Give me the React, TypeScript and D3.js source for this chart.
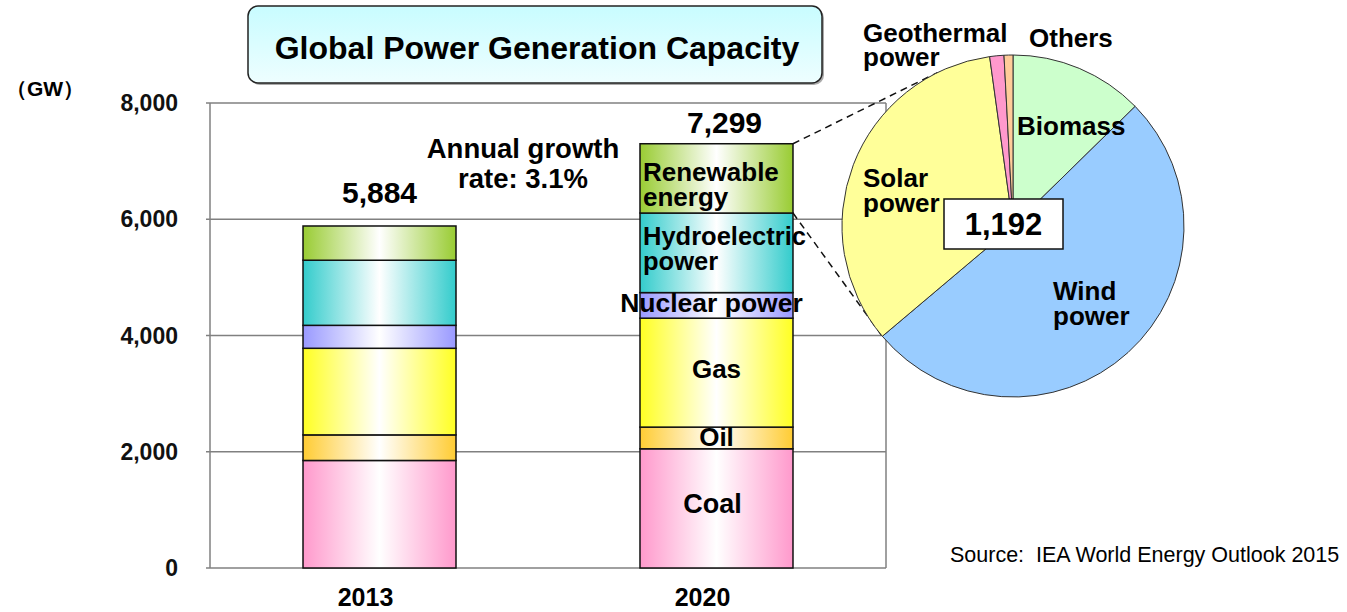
import React from 'react';
import * as d3 from 'd3';

const years = ['2013', '2020'];
const sources = ['Coal', 'Oil', 'Gas', 'Nuclear power', 'Hydroelectric power', 'Renewable energy'];
const values2013 = [1850, 440, 1490, 395, 1120, 589];
const values2020 = [2051, 373, 1874, 440, 1369, 1192];
const totals = [5884, 7299];
const yTicks = [0, 2000, 4000, 6000, 8000];
const pieLabels = ['Biomass', 'Wind power', 'Solar power', 'Geothermal power', 'Others'];
const pieValues = [151, 610, 405, 16, 10];
const pieTotal = 1192;
const growthText = ['Annual growth', 'rate: 3.1%'];
const titleText = 'Global Power Generation Capacity';
const unitText = '（GW）';
const sourceText = 'Source:  IEA World Energy Outlook 2015';

const barColors = ['#ff99cc', '#ffcc33', '#ffff22', '#9999ff', '#33cccc', '#99cc33'];
const pieColors = ['#ccffcc', '#99ccff', '#ffff99', '#ff99cc', '#ffcc99'];
const FONT = '"Liberation Sans", Arial, sans-serif';

export default function App() {
  const W = 1347, H = 612;
  const x = d3.scaleBand().domain(years).range([210, 886]).paddingInner(0.546).paddingOuter(0.276);
  const y = d3.scaleLinear().domain([0, 8000]).range([568, 103]);
  const rows = years.map((yr, i) => {
    const vals = i === 0 ? values2013 : values2020;
    const o: any = { year: yr };
    sources.forEach((s, j) => (o[s] = vals[j]));
    return o;
  });
  const stacked = d3.stack().keys(sources)(rows);
  const bw = x.bandwidth();

  const cx = 1013, cy = 226, r = 171;
  const pie = d3.pie<number>().sort(null).value((d) => d)(pieValues);
  const arc = d3.arc<any>().innerRadius(0).outerRadius(r);

  // dashed connector lines
  const x20 = (x('2020') as number) + bw;
  const P1 = [x20, y(totals[1])];
  const d1 = Math.hypot(P1[0] - cx, P1[1] - cy);
  const base1 = Math.atan2(P1[1] - cy, P1[0] - cx);
  const a1 = base1 + Math.acos(r / d1);
  const T1 = [cx + r * Math.cos(a1), cy + r * Math.sin(a1)];
  const P2 = [x20, y(totals[1] - values2020[5])];
  const boundary = pie[1].endAngle; // wind / solar boundary
  const T2 = [cx + r * Math.sin(boundary), cy - r * Math.cos(boundary)];

  const c20 = (x('2020') as number) + bw / 2;
  const c13 = (x('2013') as number) + bw / 2;
  const barL20 = x('2020') as number;

  const barLabels: { lines: string[]; anchor: string; dx: number; ys: number[]; size: number }[] = [
    { lines: ['Coal'], anchor: 'middle', dx: -4, ys: [513], size: 27 },
    { lines: ['Oil'], anchor: 'middle', dx: 0, ys: [446], size: 26 },
    { lines: ['Gas'], anchor: 'middle', dx: 0, ys: [378], size: 26 },
    { lines: ['Nuclear power'], anchor: 'middle', dx: -5, ys: [312], size: 26.5 },
    { lines: ['Hydroelectric', 'power'], anchor: 'start', dx: 0, ys: [245, 270], size: 25.5 },
    { lines: ['Renewable', 'energy'], anchor: 'start', dx: 0, ys: [181, 206], size: 26 },
  ];

  const pieLabelPos = [
    { x: 1017, ys: [135] },
    { x: 1053, ys: [300, 325] },
    { x: 863, ys: [187, 212] },
    { x: 863, ys: [42, 66] },
    { x: 1029, ys: [47] },
  ];

  return (
    <svg width={W} height={H} style={{ position: 'absolute', left: 0, top: 0, background: '#fff' }} fontFamily={FONT}>
      <defs>
        {barColors.map((c, i) => (
          <linearGradient key={i} id={`g${i}`} x1="0" x2="1" y1="0" y2="0">
            <stop offset="0" stopColor={c} />
            <stop offset="0.5" stopColor="#ffffff" />
            <stop offset="1" stopColor={c} />
          </linearGradient>
        ))}
        <linearGradient id="titleG" x1="0" x2="0" y1="0" y2="1">
          <stop offset="0" stopColor="#c8fcff" />
          <stop offset="1" stopColor="#eefeff" />
        </linearGradient>
      </defs>

      {/* title */}
      <rect x={250} y={8} width={574} height={77} rx={10} fill="#aaa" />
      <rect x={248} y={6} width={574} height={77} rx={10} fill="url(#titleG)" stroke="#222" strokeWidth={1.5} />
      <text x={537} y={59} textAnchor="middle" fontSize={32} fontWeight="bold">{titleText}</text>

      {/* grid and frame */}
      {yTicks.map((t) => (
        <g key={t}>
          <line x1={206} x2={886} y1={y(t)} y2={y(t)} stroke="#808080" strokeWidth={1.5} />
          <text x={178} y={y(t) + 8} textAnchor="end" fontSize={23} fontWeight="bold" fill="#111">{d3.format(',')(t)}</text>
        </g>
      ))}
      <line x1={210} x2={210} y1={y(8000)} y2={y(0)} stroke="#808080" strokeWidth={1.5} />
      <line x1={886} x2={886} y1={y(8000)} y2={y(0)} stroke="#808080" strokeWidth={1.5} />
      <text x={6} y={96} fontSize={21} fontWeight="bold">{unitText}</text>

      {/* bars */}
      {stacked.map((layer, i) => (
        <g key={layer.key}>
          {layer.map((d: any, j: number) => (
            <rect key={j} x={x(years[j])} y={y(d[1])} width={bw} height={y(d[0]) - y(d[1])}
              fill={`url(#g${i})`} stroke="#111" strokeWidth={1.5} />
          ))}
        </g>
      ))}

      {/* bar labels 2020 */}
      {barLabels.map((b, i) => b.lines.map((ln, k) => (
        <text key={`${i}-${k}`} x={b.anchor === 'start' ? barL20 + 3 + b.dx : c20 + b.dx} y={b.ys[k]}
          textAnchor={b.anchor} fontSize={b.size} fontWeight="bold">{ln}</text>
      )))}

      {/* totals */}
      <text x={c13} y={203} textAnchor="middle" fontSize={30} fontWeight="bold">{d3.format(',')(totals[0])}</text>
      <text x={c20 + 8} y={133} textAnchor="middle" fontSize={30} fontWeight="bold">{d3.format(',')(totals[1])}</text>
      {growthText.map((t, i) => (
        <text key={t} x={523} y={158 + i * 30} textAnchor="middle" fontSize={27.5} fontWeight="bold">{t}</text>
      ))}

      {/* x labels */}
      {years.map((yr) => (
        <text key={yr} x={(x(yr) as number) + bw / 2 - 14} y={606} textAnchor="middle" fontSize={25} fontWeight="bold">{yr}</text>
      ))}

      {/* dashed connectors */}
      <line x1={P1[0]} y1={P1[1]} x2={T1[0]} y2={T1[1]} stroke="#111" strokeWidth={1.5} strokeDasharray="7,5" />
      <line x1={P2[0]} y1={P2[1]} x2={T2[0]} y2={T2[1]} stroke="#111" strokeWidth={1.5} strokeDasharray="7,5" />

      {/* pie */}
      <g transform={`translate(${cx},${cy})`}>
        {pie.map((p, i) => (
          <path key={i} d={arc(p) as string} fill={pieColors[i]} stroke="#333" strokeWidth={1} />
        ))}
      </g>
      {pieLabels.map((l, i) => {
        const parts = i === 1 || i === 2 || i === 3 ? l.split(' ') : [l];
        return parts.map((pt, k) => (
          <text key={`${i}-${k}`} x={pieLabelPos[i].x} y={pieLabelPos[i].ys[k]} fontSize={26} fontWeight="bold">{pt}</text>
        ));
      })}
      <rect x={944} y={199} width={119} height={50} fill="#fff" stroke="#111" strokeWidth={1.5} />
      <text x={1003.5} y={235} textAnchor="middle" fontSize={31} fontWeight="bold">{d3.format(',')(pieTotal)}</text>

      <text x={950} y={562} fontSize={21.5} style={{ whiteSpace: 'pre' }}>{sourceText}</text>
    </svg>
  );
}
